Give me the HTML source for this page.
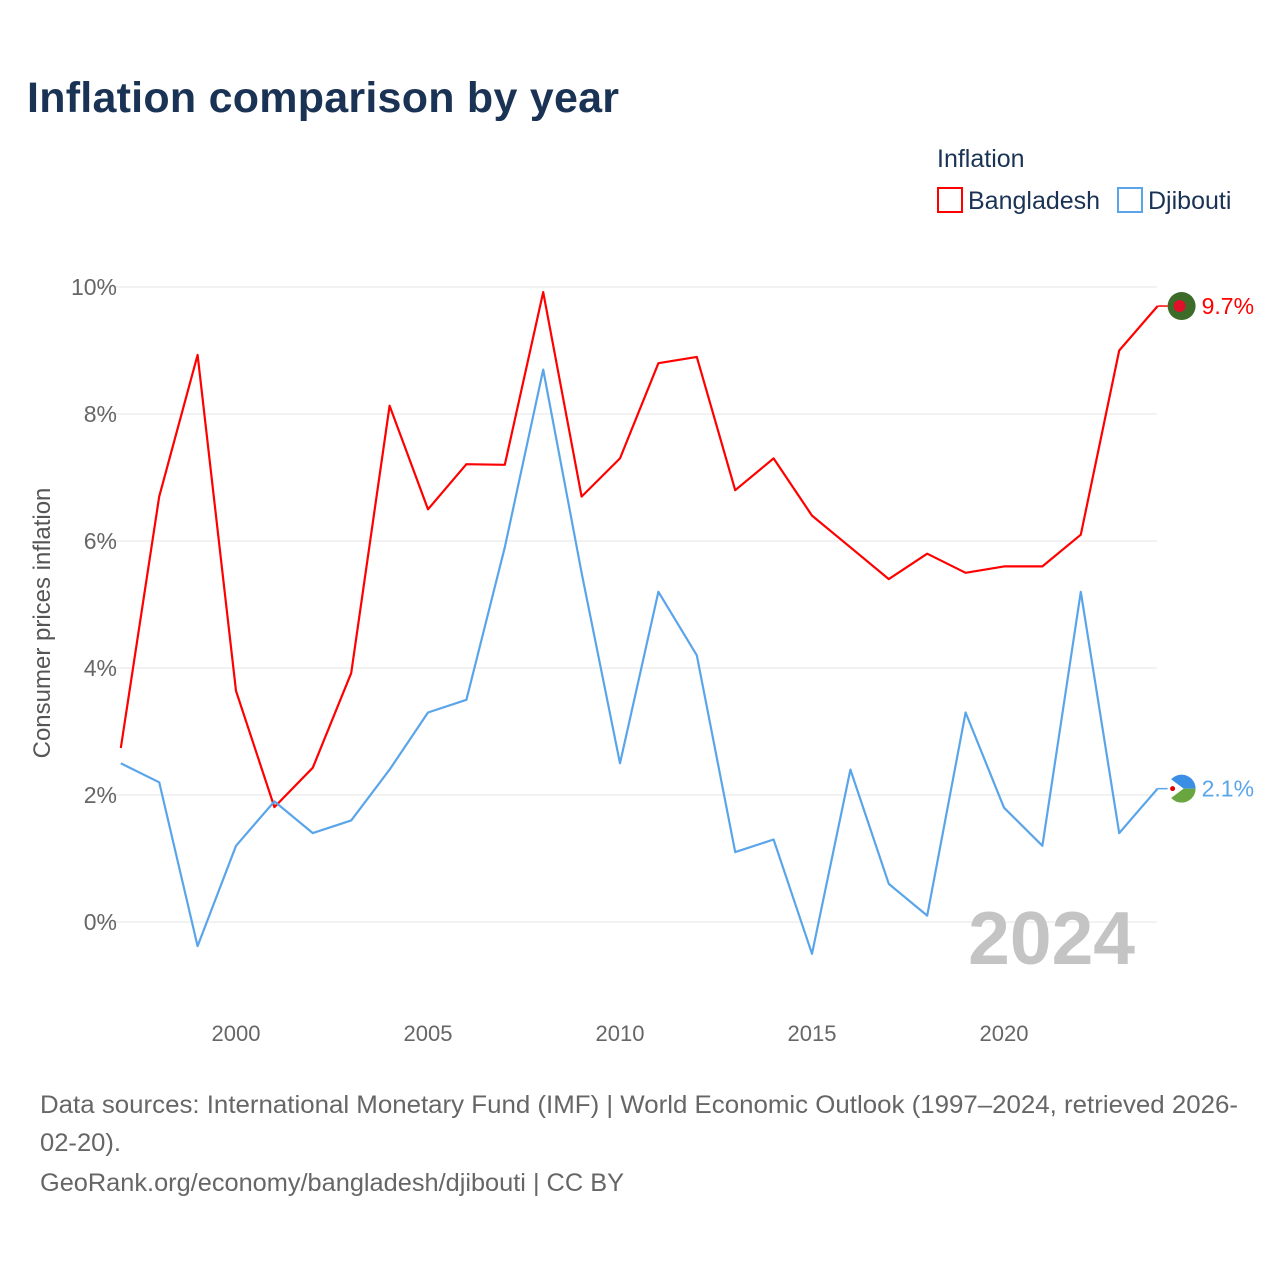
<!DOCTYPE html>
<html><head><meta charset="utf-8">
<style>
body{margin:0;background:#fff;font-family:"Liberation Sans",sans-serif;}
#wrap{position:relative;width:1280px;height:1280px;overflow:hidden;}
</style></head>
<body>
<div id="wrap">
<svg id="svg" width="1280" height="1280" xmlns="http://www.w3.org/2000/svg">
<text x="27" y="112" font-size="43" font-weight="bold" fill="#1a3355" textLength="592">Inflation comparison by year</text>
<text x="937" y="167" font-size="25" fill="#1a3355">Inflation</text>
<g>
<rect x="938" y="188" width="24" height="24" fill="none" stroke="#ff0000" stroke-width="2"/>
<text x="968" y="209" font-size="25" fill="#1a3355">Bangladesh</text></g>
<g>
<rect x="1118" y="188" width="24" height="24" fill="none" stroke="#5aa5ea" stroke-width="2"/>
<text x="1148" y="209" font-size="25" fill="#1a3355">Djibouti</text></g>
<text transform="translate(50,623) rotate(-90)" text-anchor="middle" font-size="24" fill="#555">Consumer prices inflation</text>
<g id="grid"></g><g id="lines"></g>
<text x="1135" y="964" text-anchor="end" font-size="75" font-weight="bold" fill="#c4c4c4">2024</text>
<text x="40" y="1113" font-size="25" fill="#666" textLength="1198" lengthAdjust="spacingAndGlyphs">Data sources: International Monetary Fund (IMF) | World Economic Outlook (1997–2024, retrieved 2026-</text>
<text x="40" y="1151" font-size="25" fill="#666" textLength="81" lengthAdjust="spacingAndGlyphs">02-20).</text>
<text x="40" y="1191" font-size="25" fill="#666" textLength="584" lengthAdjust="spacingAndGlyphs">GeoRank.org/economy/bangladesh/djibouti | CC BY</text>
</svg>
</div>
<script>
const years=[1997,1998,1999,2000,2001,2002,2003,2004,2005,2006,2007,2008,2009,2010,2011,2012,2013,2014,2015,2016,2017,2018,2019,2020,2021,2022,2023,2024];
const bangladesh=[2.74,6.7,8.93,3.64,1.81,2.43,3.92,8.13,6.5,7.21,7.2,9.92,6.7,7.3,8.8,8.9,6.8,7.3,6.4,5.9,5.4,5.8,5.5,5.6,5.6,6.1,9.0,9.7];
const djibouti=[2.5,2.2,-0.38,1.2,1.9,1.4,1.6,2.4,3.3,3.5,5.9,8.7,5.5,2.5,5.2,4.2,1.1,1.3,-0.5,2.4,0.6,0.1,3.3,1.8,1.2,5.2,1.4,2.1];
const yTicks=[0,2,4,6,8,10];
const xTicks=[2000,2005,2010,2015,2020];
const NS="http://www.w3.org/2000/svg";
function xs(y){return 236+(y-2000)*38.4;}
function ys(v){return 922-v*63.5;}
function mk(tag,attrs,parent){const e=document.createElementNS(NS,tag);for(const k in attrs)e.setAttribute(k,attrs[k]);parent.appendChild(e);return e;}
const grid=document.getElementById('grid'),lines=document.getElementById('lines');
yTicks.forEach(t=>{
 const l=mk('line',{x1:100,x2:1157,y1:ys(t),y2:ys(t),stroke:'#e6e6e6','stroke-width':1},grid);
 
 
 const tx=mk('text',{x:117,y:ys(t)+8,'text-anchor':'end','font-size':23,fill:'#666'},grid);
 tx.textContent=t+'%';
 
 
});
xTicks.forEach(t=>{
 const tx=mk('text',{x:xs(t),y:1041,'text-anchor':'middle','font-size':22,fill:'#666'},grid);
 tx.textContent=t;
 
 
});
function series(vals,color,name){
 const d=vals.map((v,i)=>(i?'L':'M')+xs(years[i]).toFixed(1)+','+ys(v).toFixed(1)).join(' ');
 const p=mk('path',{d:d,fill:'none',stroke:color,'stroke-width':2.2,'stroke-linejoin':'round'},lines);
 
 
 const last=vals[vals.length-1],lx=xs(years[years.length-1]),ly=ys(last);
 mk('line',{x1:lx,x2:lx+10,y1:ly,y2:ly,stroke:color,'stroke-width':1.5},lines);
 const lab=mk('text',{x:lx+44,y:ly+8,'font-size':23,fill:color},lines);
 lab.textContent=last.toFixed(1)+'%';
 
 
 return [lx+24,ly];
}
const b=series(bangladesh,'#ff0000','bangladesh');
const dj=series(djibouti,'#5aa5ea','djibouti');
const f1=mk('circle',{cx:b[0],cy:b[1],r:14,fill:'#3d6b2a'},lines);


mk('circle',{cx:b[0]-2,cy:b[1],r:6,fill:'#e0102a'},lines);
const g=mk('g',{},lines);


const cx=dj[0],cy=dj[1];
mk('path',{d:`M${cx-14},${cy} A14,14 0 0 1 ${cx+14},${cy} Z`,fill:'#3a8ee6'},g);
mk('path',{d:`M${cx-14},${cy} A14,14 0 0 0 ${cx+14},${cy} Z`,fill:'#6aa640'},g);
mk('path',{d:`M${cx-14},${cy-12} L${cx+2},${cy} L${cx-14},${cy+12} Z`,fill:'#fff'},g);
mk('circle',{cx:cx-9,cy:cy,r:2.5,fill:'#d00'},g);
</script>
</body></html>
